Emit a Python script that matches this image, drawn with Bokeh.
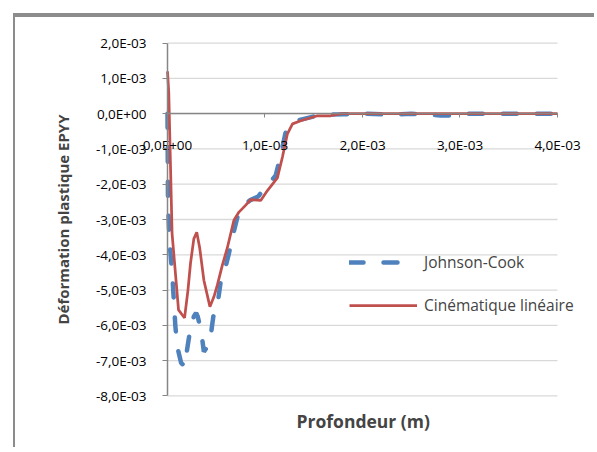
from bokeh.plotting import figure
from bokeh.models import Range1d, FixedTicker, CustomJSTickFormatter, Title
from bokeh.embed import file_html
from bokeh.resources import INLINE

# profondeur (m) / deformation plastique EPYY
depth_jc = [0, 0.005e-3, 0.02e-3, 0.05e-3, 0.065e-3, 0.08e-3, 0.1e-3, 0.14e-3, 0.185e-3,
            0.2e-3, 0.23e-3, 0.27e-3, 0.293e-3, 0.31e-3, 0.346e-3, 0.373e-3, 0.41e-3,
            0.442e-3, 0.47e-3, 0.517e-3, 0.545e-3, 0.596e-3, 0.63e-3, 0.675e-3, 0.72e-3,
            0.78e-3, 0.85e-3, 0.93e-3, 0.99e-3, 1.05e-3, 1.11e-3, 1.16e-3, 1.21e-3,
            1.26e-3, 1.35e-3, 1.5e-3, 1.65e-3, 1.8e-3, 2.0e-3, 2.3e-3, 2.5e-3, 2.8e-3,
            2.9e-3, 3.0e-3, 3.5e-3, 4.0e-3]
epyy_jc = [0, -2.5e-3, -3.6e-3, -4.6e-3, -5.3e-3, -6.0e-3, -6.6e-3, -7.07e-3, -7.17e-3,
           -6.7e-3, -6.18e-3, -5.75e-3, -5.65e-3, -5.75e-3, -6.18e-3, -6.75e-3, -6.6e-3,
           -6.32e-3, -5.75e-3, -5.33e-3, -4.77e-3, -4.34e-3, -3.96e-3, -3.4e-3, -2.9e-3,
           -2.6e-3, -2.45e-3, -2.35e-3, -2.13e-3, -1.95e-3, -1.75e-3, -1.2e-3, -0.55e-3,
           -0.3e-3, -0.18e-3, -0.08e-3, -0.03e-3, -0.02e-3, 0, -0.03e-3, 0, -0.05e-3,
           -0.05e-3, 0, 0, 0]

depth_cin = [0, 0.013e-3, 0.047e-3, 0.113e-3, 0.15e-3, 0.175e-3, 0.21e-3, 0.236e-3, 0.27e-3,
             0.3e-3, 0.33e-3, 0.373e-3, 0.435e-3, 0.476e-3, 0.511e-3, 0.562e-3, 0.614e-3,
             0.681e-3, 0.733e-3, 0.8e-3, 0.853e-3, 0.956e-3, 1.025e-3, 1.127e-3, 1.179e-3,
             1.23e-3, 1.282e-3, 1.367e-3, 1.539e-3, 1.675e-3, 1.78e-3, 2.0e-3, 2.5e-3,
             3.0e-3, 3.5e-3, 4.0e-3]
epyy_cin = [1.2e-3, 0.6e-3, -3.4e-3, -5.56e-3, -5.7e-3, -5.79e-3, -5.0e-3, -4.24e-3, -3.55e-3,
            -3.36e-3, -3.8e-3, -4.72e-3, -5.47e-3, -5.19e-3, -4.86e-3, -4.3e-3, -3.8e-3,
            -3.02e-3, -2.79e-3, -2.6e-3, -2.44e-3, -2.46e-3, -2.18e-3, -1.82e-3, -1.23e-3,
            -0.57e-3, -0.29e-3, -0.2e-3, -0.06e-3, -0.06e-3, 0, 0, 0,
            0, 0, 0]

x_ticks = [0, 1e-3, 2e-3, 3e-3, 4e-3]
y_ticks = [-8e-3, -7e-3, -6e-3, -5e-3, -4e-3, -3e-3, -2e-3, -1e-3, 0, 1e-3, 2e-3]

# excel style "2,0E-03"
sci_fmt = CustomJSTickFormatter(code="""
var v = tick;
if (Math.abs(v) < 1e-12) { return "0,0E+00"; }
var e = Math.floor(Math.log10(Math.abs(v)) + 1e-9);
var m = v / Math.pow(10, e);
var s = m.toFixed(1).replace(".", ",");
var a = Math.abs(e);
return s + "E" + (e < 0 ? "-" : "+") + (a < 10 ? "0" : "") + a;
""")

# frame is larger than the plotted area on every side: both axes are pinned
# at 0 and their labels would otherwise be clipped
p = figure(width=581, height=434, output_backend="svg", toolbar_location=None,
           x_range=Range1d(-0.8205e-3, 4.4e-3), y_range=Range1d(-8.3e-3, 2.3e-3),
           min_border_left=72, min_border_right=0, min_border_top=15, min_border_bottom=45)
# chart area border (left and top edges only, the rest is cropped)
p.styles = {"margin-left": "15px", "margin-top": "17px",
            "box-shadow": "-2px -4px 0 0 #8c8c8c"}
p.outline_line_color = None

# horizontal gridlines over 0..4E-03 only
p.xgrid.visible = False
p.ygrid.visible = False
p.multi_line([[x_ticks[0], x_ticks[-1]] for t in y_ticks], [[t, t] for t in y_ticks],
             line_color="#d9d9d9", line_width=1.3)

p.line(depth_jc, epyy_jc, line_width=4.5, color="#4f81bd", line_dash="14 20",
       line_cap="round", legend_label="Johnson-Cook")
p.line(depth_cin, epyy_cin, line_width=2.75, color="#c0504d", legend_label="Cinématique linéaire")

# x axis crosses at y=0
p.xaxis.fixed_location = 0
p.xaxis.bounds = (x_ticks[0], x_ticks[-1])
p.xaxis.ticker = FixedTicker(ticks=x_ticks, minor_ticks=[])
p.xaxis.formatter = sci_fmt
p.xaxis.axis_line_color = "#868686"
p.xaxis.axis_line_width = 1.5
p.xaxis.major_tick_line_color = "#868686"
p.xaxis.major_tick_in = 0
p.xaxis.major_tick_out = 4
p.xaxis.minor_tick_line_color = None
p.xaxis.major_label_standoff = 18
p.xaxis.major_label_text_font = "Open Sans"
p.xaxis.major_label_text_font_size = "13.5px"
p.xaxis.major_label_text_color = "#000000"

# y axis at x=0
p.yaxis.fixed_location = 0
p.yaxis.bounds = (y_ticks[0], y_ticks[-1])
p.yaxis.ticker = FixedTicker(ticks=y_ticks, minor_ticks=[])
p.yaxis.formatter = sci_fmt
p.yaxis.axis_line_color = "#868686"
p.yaxis.axis_line_width = 1.5
p.yaxis.major_tick_line_color = "#868686"
p.yaxis.major_tick_in = 0
p.yaxis.major_tick_out = 5
p.yaxis.minor_tick_line_color = None
p.yaxis.major_label_standoff = 16
p.yaxis.major_label_text_font = "Open Sans"
p.yaxis.major_label_text_font_size = "13.5px"
p.yaxis.major_label_text_color = "#000000"

p.add_layout(Title(text="Déformation plastique EPYY", align="center", text_font="Open Sans",
                   text_font_size="15px", text_font_style="bold", standoff=30), "left")

# x title sits under the plot area, centred on 0..4E-03
p.add_layout(Title(text="Profondeur (m)", align="left", offset=209, text_font="Open Sans",
                   text_font_size="17.5px", text_font_style="bold", standoff=0), "below")

# legend, no box
p.legend.location = (262, 90)
p.legend.border_line_color = None
p.legend.background_fill_alpha = 0
p.legend.padding = 0
p.legend.margin = 0
p.legend.spacing = 21
p.legend.glyph_width = 68
p.legend.glyph_height = 20
p.legend.label_height = 20
p.legend.label_standoff = 7
p.legend.label_text_font = "Open Sans"
p.legend.label_text_font_size = "15.5px"

open("out.html", "w").write(file_html(p, INLINE))
